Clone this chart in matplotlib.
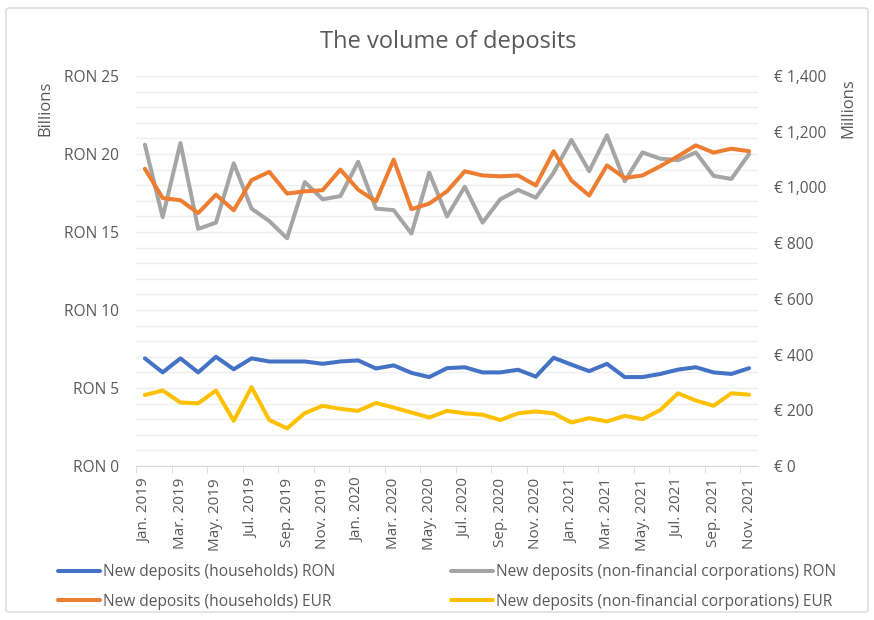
import numpy as np
import matplotlib.pyplot as plt
from matplotlib.patches import FancyBboxPatch

plt.rcParams['font.family'] = ['Open Sans', 'DejaVu Sans']

months = ['Jan. 2019', 'Feb. 2019', 'Mar. 2019', 'Apr. 2019', 'May. 2019', 'Jun. 2019',
          'Jul. 2019', 'Aug. 2019', 'Sep. 2019', 'Oct. 2019', 'Nov. 2019', 'Dec. 2019',
          'Jan. 2020', 'Feb. 2020', 'Mar. 2020', 'Apr. 2020', 'May. 2020', 'Jun. 2020',
          'Jul. 2020', 'Aug. 2020', 'Sep. 2020', 'Oct. 2020', 'Nov. 2020', 'Dec. 2020',
          'Jan. 2021', 'Feb. 2021', 'Mar. 2021', 'Apr. 2021', 'May. 2021', 'Jun. 2021',
          'Jul. 2021', 'Aug. 2021', 'Sep. 2021', 'Oct. 2021', 'Nov. 2021']

# RON, billions (left axis)
hh_ron = [6.9, 6.0, 6.9, 6.0, 7.0, 6.2, 6.9, 6.7, 6.7, 6.7, 6.55, 6.7,
          6.77, 6.25, 6.45, 5.97, 5.7, 6.27, 6.33, 6.0, 6.0, 6.17, 5.73, 6.94,
          6.5, 6.08, 6.55, 5.7, 5.7, 5.9, 6.18, 6.33, 6.0, 5.9, 6.27]
nfc_ron = [20.6, 15.95, 20.7, 15.2, 15.6, 19.4, 16.5, 15.7, 14.6, 18.2, 17.1, 17.3,
           19.5, 16.5, 16.4, 14.9, 18.8, 16.0, 17.9, 15.6, 17.1, 17.7, 17.2, 18.8,
           20.9, 18.9, 21.2, 18.25, 20.1, 19.7, 19.6, 20.1, 18.6, 18.4, 20.0]

# EUR, millions (right axis)
hh_eur = [1067, 962, 954, 908, 974, 918, 1026, 1056, 978, 986, 990, 1064,
          992, 950, 1100, 922, 942, 986, 1058, 1043, 1040, 1043, 1007, 1130,
          1025, 971, 1079, 1034, 1043, 1076, 1112, 1151, 1125, 1139, 1130]
nfc_eur = [255, 271, 228, 225, 271, 162, 283, 165, 135, 190, 216, 205,
           198, 226, 210, 192, 174, 198, 189, 184, 165, 189, 196, 189,
           156, 172, 160, 180, 168, 201, 261, 235, 216, 261, 256]

txt = '#595959'
x = np.arange(len(months))

fig = plt.figure(figsize=(8.74, 6.2), dpi=100)
fig.patches.append(FancyBboxPatch((6 / 874, 8 / 620), 862 / 874, 604 / 620,
                                  boxstyle='round,pad=0,rounding_size=0.004',
                                  transform=fig.transFigure, fill=False,
                                  edgecolor='#d9d9d9', linewidth=1.0))
ax = fig.add_axes([136 / 874, 1 - 466 / 620, 622 / 874, 390 / 620])
ax2 = ax.twinx()

ax.set_ylim(0, 25)
ax2.set_ylim(0, 1400)
ax.set_xlim(-0.5, len(months) - 0.5)

ax.set_yticks(np.arange(0, 26, 5))
ax.set_yticklabels(['RON %d' % v for v in range(0, 26, 5)])
ax.set_yticks(np.arange(0, 26, 1), minor=True)
ax.grid(axis='y', which='both', color='#efefef', linewidth=1.0)
ax.set_axisbelow(True)
ax2.set_yticks(np.arange(0, 1401, 200))
ax2.set_yticklabels(['€ {:,}'.format(v) for v in range(0, 1401, 200)])

ax.set_xticks(x[::2])
ax.set_xticklabels(months[::2], rotation=90)
ax.set_xticks(np.arange(-0.5, len(months), 2), minor=True)

for a in (ax, ax2):
    for s in a.spines.values():
        s.set_visible(False)
    a.tick_params(axis='y', which='both', length=0, colors=txt, labelsize=11.2)
ax.spines['bottom'].set_visible(True)
ax.spines['bottom'].set_color('#d9d9d9')
ax.tick_params(axis='x', which='major', length=0, colors=txt, labelsize=11, pad=8.5)
ax.tick_params(axis='x', which='minor', length=5, color='#d9d9d9')
ax.tick_params(axis='y', pad=12)
ax2.tick_params(axis='y', pad=11.5)

lw = 2.9
l1, = ax.plot(x, hh_ron, color='#4472C4', lw=lw, solid_capstyle='round',
              label='New deposits (households) RON')
l2, = ax.plot(x, nfc_ron, color='#A5A5A5', lw=lw, solid_capstyle='round',
              label='New deposits (non-financial corporations) RON')
l3, = ax2.plot(x, hh_eur, color='#ED7D31', lw=lw, solid_capstyle='round',
               label='New deposits (households) EUR')
l4, = ax2.plot(x, nfc_eur, color='#FFC000', lw=lw, solid_capstyle='round',
               label='New deposits (non-financial corporations) EUR')

fig.text(0.513, 1 - 42 / 620, 'The volume of deposits', ha='center', va='center',
         fontsize=17, color=txt)
fig.text(45 / 874, 1 - 108 / 620, 'Billions', rotation=90, ha='center', va='center',
         fontsize=12, color=txt)
fig.text(848 / 874, 1 - 108 / 620, 'Millions', rotation=90, ha='center', va='center',
         fontsize=12, color=txt)

for hs, x0 in (([l1, l3], 58), ([l2, l4], 451)):
    leg = fig.legend(handles=hs, loc='upper left',
                     bbox_to_anchor=(x0 / 874, 1 - 564 / 620), frameon=False,
                     fontsize=11.2, handlelength=2.7, handletextpad=0.22,
                     labelspacing=0.88, borderaxespad=0, borderpad=0)
    for t in leg.get_texts():
        t.set_color(txt)

fig.savefig('out.png', dpi=100)
